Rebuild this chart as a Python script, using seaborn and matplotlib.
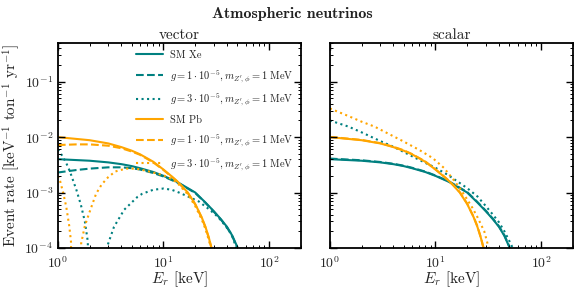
import numpy as np
import pandas as pd
import matplotlib
matplotlib.use('Agg')
import matplotlib.pyplot as plt
import seaborn as sns

# SM spectra (same in both panels)
E_xe_sm = [1, 2, 3, 4, 5, 6, 8, 10, 13.5, 17, 20, 25, 30, 35, 40, 45, 50, 54]
xe_sm = [4.0e-3, 3.75e-3, 3.5e-3, 3.25e-3, 3.0e-3, 2.75e-3, 2.35e-3, 2.0e-3, 1.55e-3,
         1.2e-3, 1.0e-3, 6.6e-4, 4.6e-4, 3.3e-4, 2.4e-4, 1.65e-4, 1.05e-4, 5e-5]
E_pb_sm = [1, 2, 3, 4, 5, 6, 8, 10, 12, 13.5, 15, 17, 20, 23, 25, 27, 28.5, 30]
pb_sm = [1.0e-2, 8.8e-3, 7.7e-3, 6.6e-3, 5.7e-3, 4.9e-3, 3.6e-3, 2.6e-3, 1.95e-3, 1.6e-3,
         1.3e-3, 1.0e-3, 6.2e-4, 3.6e-4, 2.4e-4, 1.5e-4, 1.0e-4, 5e-5]

# vector, g = 1e-5
E_xe_v1 = [1, 1.5, 2, 3, 4, 5, 6, 8, 10, 13.5, 17, 20, 25, 30, 35, 40, 45, 50, 54]
xe_v1 = [2.3e-3, 2.55e-3, 2.7e-3, 2.85e-3, 2.85e-3, 2.75e-3, 2.6e-3, 2.25e-3, 1.95e-3, 1.52e-3,
         1.18e-3, 9.8e-4, 6.5e-4, 4.5e-4, 3.25e-4, 2.35e-4, 1.6e-4, 1.03e-4, 5e-5]
E_pb_v1 = [1, 1.5, 2, 3, 4, 5, 6, 8, 10, 12, 13.5, 15, 17, 20, 23, 25, 27, 28.5, 30]
pb_v1 = [7.2e-3, 7.4e-3, 7.4e-3, 7.0e-3, 6.3e-3, 5.5e-3, 4.8e-3, 3.5e-3, 2.55e-3, 1.92e-3,
         1.58e-3, 1.28e-3, 9.8e-4, 6.1e-4, 3.5e-4, 2.35e-4, 1.48e-4, 1.0e-4, 5e-5]

# vector, g = 3e-5 (zero crossings drawn off the bottom of the axis)
E_xe_v3 = [1, 1.1, 1.2, 1.3, 1.4, 1.5, 1.65, 1.8, 1.92, 2.0, 2.85, 2.95, 3.4, 4.25, 5.7, 6.3, 8,
           10, 12, 14, 17, 21.6, 27, 33, 38, 44, 49, 53]
xe_v3 = [6.0e-3, 4.6e-3, 3.4e-3, 2.4e-3, 1.6e-3, 1.1e-3, 6e-4, 3e-4, 1.3e-4, 1e-7, 1e-7, 1.1e-4,
         2.4e-4, 4.9e-4, 8.4e-4, 9.5e-4, 1.12e-3, 1.18e-3, 1.12e-3, 1.0e-3, 8.5e-4, 6.9e-4,
         5.0e-4, 3.6e-4, 2.6e-4, 1.8e-4, 1.0e-4, 5e-5]
E_pb_v3 = [1, 1.05, 1.12, 1.2, 1.28, 1.33, 1.38, 1.6, 1.66, 1.8, 2.0, 2.3, 2.6, 3.0, 3.5, 4.4, 5.5,
           7, 10, 12, 13.5, 15, 17, 20, 23, 25, 27, 28.2, 29.5]
pb_v3 = [2.0e-3, 1.6e-3, 1.0e-3, 5.5e-4, 2.5e-4, 1.3e-4, 1e-7, 1e-7, 1.2e-4, 2.5e-4, 4.5e-4,
         9.5e-4, 1.4e-3, 1.9e-3, 2.4e-3, 2.7e-3, 2.7e-3, 2.45e-3, 2.05e-3, 1.75e-3, 1.5e-3,
         1.2e-3, 9.3e-4, 5.7e-4, 3.3e-4, 2.2e-4, 1.35e-4, 1.0e-4, 5e-5]

# scalar
E_xe_s1 = E_xe_sm
xe_s1 = [4.1e-3, 3.82e-3, 3.56e-3, 3.3e-3, 3.05e-3, 2.8e-3, 2.39e-3, 2.03e-3, 1.58e-3,
         1.22e-3, 1.02e-3, 6.75e-4, 4.7e-4, 3.38e-4, 2.46e-4, 1.7e-4, 1.08e-4, 5.2e-5]
E_pb_s1 = E_pb_sm
pb_s1 = [1.01e-2, 8.9e-3, 7.8e-3, 6.7e-3, 5.8e-3, 4.95e-3, 3.65e-3, 2.63e-3, 1.97e-3, 1.62e-3,
         1.32e-3, 1.02e-3, 6.3e-4, 3.65e-4, 2.45e-4, 1.53e-4, 1.02e-4, 5.2e-5]
E_xe_s3 = [1, 1.5, 2, 3, 4, 5, 7, 10, 13, 15, 20, 25, 30, 35, 40, 45, 50, 54, 58]
xe_s3 = [2.0e-2, 1.55e-2, 1.22e-2, 8.5e-3, 6.7e-3, 5.4e-3, 3.9e-3, 2.8e-3, 2.1e-3, 1.75e-3,
         1.2e-3, 8.5e-4, 5.7e-4, 4.0e-4, 2.9e-4, 2.0e-4, 1.35e-4, 1.0e-4, 5e-5]
E_pb_s3 = [1, 1.5, 2, 2.65, 3.5, 4.9, 7, 9.4, 12, 14.5, 17, 20, 22.4, 25, 29, 32, 34]
pb_s3 = [3.3e-2, 2.4e-2, 1.9e-2, 1.55e-2, 1.18e-2, 8.5e-3, 5.9e-3, 4.2e-3, 2.8e-3, 1.8e-3,
         1.2e-3, 7.5e-4, 5.3e-4, 3.6e-4, 2.0e-4, 1.0e-4, 5e-5]

teal = '#008080'
orange = '#FFA500'
lab1 = r'$g = 1\cdot10^{-5}, m_{Z^\prime,\phi} = 1$ MeV'
lab3 = r'$g = 3\cdot10^{-5}, m_{Z^\prime,\phi} = 1$ MeV'

sns.set_style('ticks')
plt.rcParams['font.family'] = 'serif'
plt.rcParams['font.serif'] = ['cmr10']
plt.rcParams['mathtext.fontset'] = 'cm'
plt.rcParams['axes.formatter.use_mathtext'] = True
plt.rcParams['axes.unicode_minus'] = False
plt.rcParams['axes.linewidth'] = 1.3
plt.rcParams['axes.edgecolor'] = 'black'
plt.rcParams['axes.axisbelow'] = False
plt.rcParams['text.color'] = '#222222'
plt.rcParams['axes.labelcolor'] = '#222222'
plt.rcParams['xtick.major.pad'] = 5

fig, axs = plt.subplots(1, 2, figsize=(5.85, 2.93), dpi=100, sharey=True)
fig.subplots_adjust(left=0.099, right=0.979, bottom=0.154, top=0.853, wspace=0.12)

def line(ax, E, y, color, ls, label):
    df = pd.DataFrame({'E': E, 'rate': y})
    sns.lineplot(data=df, x='E', y='rate', ax=ax, color=color, linestyle=ls, linewidth=1.5,
                 label=label, estimator=None, sort=False, legend=False)

panels = [
    ('vector', [(E_xe_v1, xe_v1), (E_xe_v3, xe_v3)], [(E_pb_v1, pb_v1), (E_pb_v3, pb_v3)]),
    ('scalar', [(E_xe_s1, xe_s1), (E_xe_s3, xe_s3)], [(E_pb_s1, pb_s1), (E_pb_s3, pb_s3)]),
]

for ax, (name, xe_bsm, pb_bsm) in zip(axs, panels):
    ax.set_xscale('log')
    ax.set_yscale('log')
    line(ax, E_xe_sm, xe_sm, teal, '-', 'SM Xe')
    line(ax, xe_bsm[0][0], xe_bsm[0][1], teal, '--', lab1)
    line(ax, xe_bsm[1][0], xe_bsm[1][1], teal, ':', lab3)
    line(ax, E_pb_sm, pb_sm, orange, '-', 'SM Pb')
    line(ax, pb_bsm[0][0], pb_bsm[0][1], orange, '--', lab1)
    line(ax, pb_bsm[1][0], pb_bsm[1][1], orange, ':', lab3)
    ax.set_xlim(1, 200)
    ax.set_ylim(1e-4, 0.5)
    ax.set_axisbelow(False)

for ax in axs:
    ax.tick_params(which='both', direction='in', top=True, right=True, color='black')
    ax.tick_params(which='major', length=5, width=1.0, labelsize=10)
    ax.tick_params(which='minor', length=2.5, width=0.7)

for ax, (name, _, _) in zip(axs, panels):
    ax.set_title(name, fontsize=11, pad=3)
    ax.set_xlabel(r'$E_r$ [keV]', fontsize=11, labelpad=-1)

axs[0].set_ylabel(r'Event rate [keV$^{-1}$ ton$^{-1}$ yr$^{-1}$]', fontsize=11, labelpad=2)
axs[1].set_ylabel('')
axs[0].legend(loc='upper right', frameon=False, fontsize=7.5, handlelength=2.6,
              labelspacing=0.75, borderaxespad=0.3, handletextpad=0.7)

fig.suptitle('Atmospheric neutrinos', fontsize=11.5, family='cmb10', y=0.975)

plt.savefig('out.png', dpi=100)
